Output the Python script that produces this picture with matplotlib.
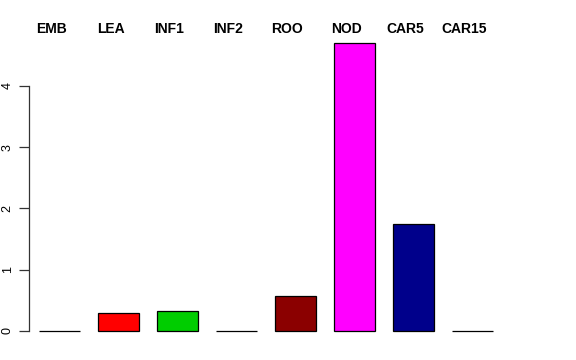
import matplotlib
matplotlib.use("Agg")
import matplotlib.pyplot as plt
import numpy as np

categories = ["EMB", "LEA", "INF1", "INF2", "ROO", "NOD", "CAR5", "CAR15"]
values = [0.0, 0.29, 0.33, 0.0, 0.57, 4.70, 1.75, 0.0]
colors = ["black", "#FF0000", "#00CD00", "#0000FF", "#8B0000", "#FF00FF", "#00008B", "#FFA500"]
yticks = [0, 1, 2, 3, 4]

plt.rcParams['font.family'] = ['Liberation Sans', 'DejaVu Sans']

fig = plt.figure(figsize=(5.76, 3.6), dpi=100)
ax = fig.add_axes([29/576, (360-342.5)/360, (504-29)/576, (342.5-31.6)/360])

x = np.arange(len(categories))
ax.bar(x, values, width=41/59, color=colors, edgecolor="black", linewidth=0.9)

ax.set_xlim(-0.517, 7.534)
ax.set_ylim(-0.188, 4.888)

for s in ["top", "right", "bottom"]:
    ax.spines[s].set_visible(False)
ax.spines["left"].set_bounds(0, 4)
ax.spines["left"].set_color("#333333")
ax.spines["left"].set_linewidth(0.9)
ax.set_xticks([])
ax.set_yticks(yticks)
ax.set_yticklabels([str(t) for t in yticks], rotation=90, va="center", fontsize=9)
ax.tick_params(axis="y", length=7, width=0.9, color="#333333", pad=4)

for xi, lab in zip(x, categories):
    ax.text(xi - 8/59, 4.93, lab, ha="center", va="center", fontsize=10,
            fontweight="bold", clip_on=False)

fig.savefig("out.png", dpi=100)
